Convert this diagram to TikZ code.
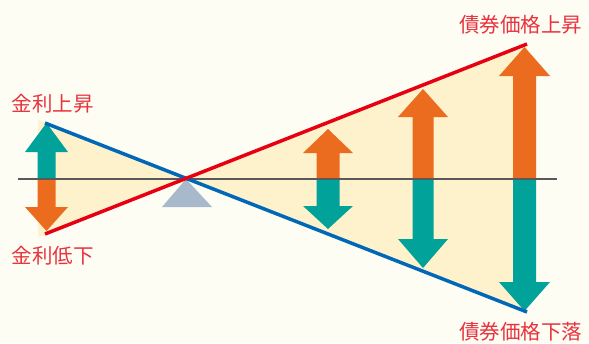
\documentclass[tikz,border=0pt]{standalone}
\usepackage{fontspec}
\newfontfamily\cjk{Noto Sans CJK JP}
\definecolor{bgc}{HTML}{FDFDF4}
\definecolor{fillc}{HTML}{FEF2CC}
\definecolor{tealc}{HTML}{00A29A}
\definecolor{orangec}{HTML}{EC6C1F}
\definecolor{redc}{HTML}{E60012}
\definecolor{bluec}{HTML}{0068B7}
\definecolor{txtc}{HTML}{E8333F}
\definecolor{fulc}{HTML}{A9B9CC}
\newcommand{\fatarr}[7]{%
  \fill[#1] (#2-#6,#3) -- (#2-#6,#4) -- (#2-#7,#4) -- (#2,#5) -- (#2+#7,#4) -- (#2+#6,#4) -- (#2+#6,#3) -- cycle;}
\tikzset{
  lbl/.style={font=\cjk\fontsize{20.5}{22}\selectfont, text=txtc, inner sep=0pt},
  slope/.style={line width=3.5pt},
  axisline/.style={draw=black!65, line width=1.3pt}
}
\begin{document}
\begin{tikzpicture}[x=1pt,y=-1pt]
\fill[bgc] (0,0) rectangle (589,343);
\useasboundingbox (0,0) rectangle (589,343);
% key points
\coordinate (X) at (186,179);
\coordinate (bs) at (45,123);
\coordinate (be) at (527,312);
\coordinate (rs) at (45,234);
\coordinate (re) at (527,44);
\coordinate (hl) at (18,179);
\coordinate (hr) at (557,179);
% shaded regions
\fill[fillc] (38,120) -- (X) -- (38,237) -- cycle;
\fill[fillc] (X) -- (re) -- (be) -- cycle;
% fulcrum
\fill[fulc] (162,207) -- (212,207) -- (X) -- cycle;
% arrows
\fatarr{tealc}{46.5}{179}{152}{123}{9}{21.5}
\fatarr{orangec}{46.5}{179}{207}{231}{9}{21.5}
\fatarr{orangec}{328}{179}{153}{129}{11.5}{25}
\fatarr{tealc}{328}{179}{206}{229}{11.5}{25}
\fatarr{orangec}{423}{179}{117}{89}{10.5}{25}
\fatarr{tealc}{423}{179}{239}{268}{10.5}{25}
\fatarr{orangec}{524.5}{179}{76}{47}{11.5}{25.5}
\fatarr{tealc}{524.5}{179}{282}{311}{11.5}{25.5}
% axis
\draw[axisline] (hl) -- (hr);
% slopes
\draw[slope, bluec] (bs) -- (be);
\draw[slope, redc] (rs) -- (re);
% labels
\node[lbl] (t1) at (53,104) {金利上昇};
\node[lbl] (t2) at (53,256) {金利低下};
\node[lbl] (t3) at (520.5,25) {債券価格上昇};
\node[lbl] (t4) at (520.5,332) {債券価格下落};
\end{tikzpicture}
\end{document}
